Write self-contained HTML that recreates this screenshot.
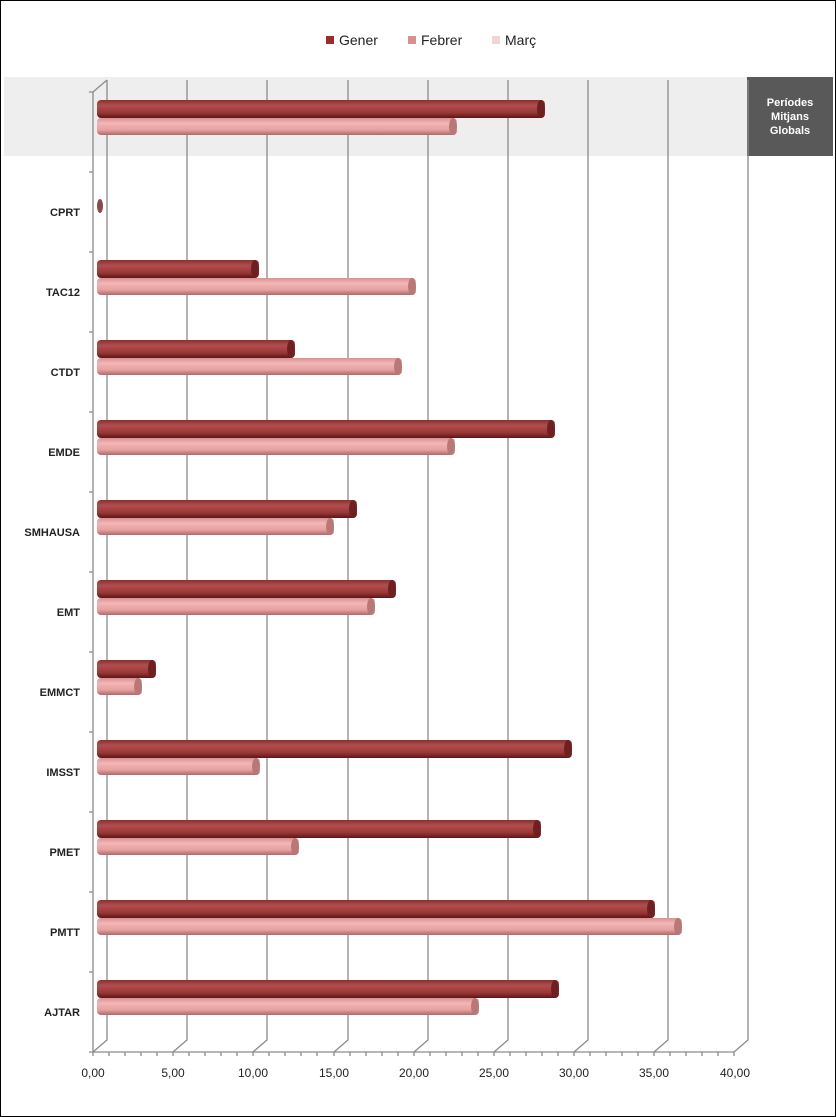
<!DOCTYPE html>
<html><head><meta charset="utf-8"><style>
body{margin:0;background:#fff}
svg{display:block;font-family:"Liberation Sans",sans-serif}
</style></head><body>
<svg width="836" height="1117" xmlns="http://www.w3.org/2000/svg">
<defs>
<linearGradient id="g" x1="0" y1="0" x2="0" y2="1">
<stop offset="0" stop-color="#8c2e2e"/><stop offset="0.3" stop-color="#b04e4e"/><stop offset="0.7" stop-color="#9a3838"/><stop offset="1" stop-color="#5e1414"/></linearGradient>
<linearGradient id="f" x1="0" y1="0" x2="0" y2="1">
<stop offset="0" stop-color="#d99090"/><stop offset="0.3" stop-color="#f3b6b6"/><stop offset="0.7" stop-color="#e6a0a0"/><stop offset="1" stop-color="#b06868"/></linearGradient>
</defs>
<rect x="0.5" y="0.5" width="835" height="1116" fill="#fff" stroke="#000"/>
<rect x="4" y="77" width="743" height="79" fill="#eeeeee"/>
<rect x="747" y="77" width="86" height="79" fill="#595959"/>
<text x="790" y="106" fill="#fff" font-size="11" font-weight="bold" text-anchor="middle">Períodes</text>
<text x="790" y="120" fill="#fff" font-size="11" font-weight="bold" text-anchor="middle">Mitjans</text>
<text x="790" y="134" fill="#fff" font-size="11" font-weight="bold" text-anchor="middle">Globals</text>
<!-- legend -->
<rect x="326" y="36" width="8" height="8" fill="#9b2c2c"/><text x="339" y="45" font-size="14" fill="#222">Gener</text>
<rect x="408" y="36" width="8" height="8" fill="#d99090"/><text x="421" y="45" font-size="14" fill="#222">Febrer</text>
<rect x="492" y="36" width="8" height="8" fill="#f2d4d4"/><text x="505" y="45" font-size="14" fill="#222">Març</text>
<!-- grid -->
<g stroke="#8a8a8a" stroke-width="1.3" fill="none">
<path d="M107,80V1040L93,1052"/><path d="M187,80V1040L173,1052"/><path d="M267,80V1040L253,1052"/><path d="M348,80V1040L334,1052"/><path d="M428,80V1040L414,1052"/><path d="M508,80V1040L494,1052"/><path d="M588,80V1040L574,1052"/><path d="M668,80V1040L654,1052"/><path d="M748,80V1040L734,1052"/>
<path d="M93,92V1052H734"/><path d="M93,92L107,80"/>
<path d="M89,92h4M89,172h4M89,252h4M89,332h4M89,412h4M89,492h4M89,572h4M89,652h4M89,732h4M89,812h4M89,892h4M89,972h4M89,1052h4"/>
<path d="M109,1052v4M125,1052v4M141,1052v4M157,1052v4M189,1052v4M205,1052v4M221,1052v4M237,1052v4M269,1052v4M285,1052v4M301,1052v4M317,1052v4M350,1052v4M366,1052v4M382,1052v4M398,1052v4M430,1052v4M446,1052v4M462,1052v4M478,1052v4M510,1052v4M526,1052v4M542,1052v4M558,1052v4M590,1052v4M606,1052v4M622,1052v4M638,1052v4M670,1052v4M686,1052v4M702,1052v4M718,1052v4M93,1052v4M173,1052v4M253,1052v4M334,1052v4M414,1052v4M494,1052v4M574,1052v4M654,1052v4M734,1052v4"/>
</g>
<g font-size="12" fill="#222" text-anchor="middle">
<text x="93" y="1077">0,00</text><text x="173" y="1077">5,00</text><text x="253" y="1077">10,00</text><text x="334" y="1077">15,00</text><text x="414" y="1077">20,00</text><text x="494" y="1077">25,00</text><text x="574" y="1077">30,00</text><text x="654" y="1077">35,00</text><text x="735" y="1077">40,00</text>
</g>
<g font-size="11" font-weight="bold" fill="#222" text-anchor="end">
<text x="80" y="216">CPRT</text><text x="80" y="296">TAC12</text><text x="80" y="376">CTDT</text><text x="80" y="456">EMDE</text><text x="80" y="536">SMHAUSA</text><text x="80" y="616">EMT</text><text x="80" y="696">EMMCT</text><text x="80" y="776">IMSST</text><text x="80" y="856">PMET</text><text x="80" y="936">PMTT</text><text x="80" y="1016">AJTAR</text>
</g>
<g stroke="none">
<!-- bars: gener y=100+80i h18 ; febrer y=118+80i h17 -->
<rect x="97" y="100" width="448" height="18" rx="4" fill="url(#g)"/><ellipse cx="541" cy="109" rx="4" ry="9" fill="#6e2020"/>
<rect x="97" y="118" width="360" height="17" rx="4" fill="url(#f)"/><ellipse cx="453" cy="126.5" rx="4" ry="8.5" fill="#b87878"/>
<ellipse cx="100" cy="206" rx="3" ry="7" fill="#8a4a4a"/>
<rect x="97" y="260" width="162" height="18" rx="4" fill="url(#g)"/><ellipse cx="255" cy="269" rx="4" ry="9" fill="#6e2020"/>
<rect x="97" y="278" width="319" height="17" rx="4" fill="url(#f)"/><ellipse cx="412" cy="286.5" rx="4" ry="8.5" fill="#b87878"/>
<rect x="97" y="340" width="198" height="18" rx="4" fill="url(#g)"/><ellipse cx="291" cy="349" rx="4" ry="9" fill="#6e2020"/>
<rect x="97" y="358" width="305" height="17" rx="4" fill="url(#f)"/><ellipse cx="398" cy="366.5" rx="4" ry="8.5" fill="#b87878"/>
<rect x="97" y="420" width="458" height="18" rx="4" fill="url(#g)"/><ellipse cx="551" cy="429" rx="4" ry="9" fill="#6e2020"/>
<rect x="97" y="438" width="358" height="17" rx="4" fill="url(#f)"/><ellipse cx="451" cy="446.5" rx="4" ry="8.5" fill="#b87878"/>
<rect x="97" y="500" width="260" height="18" rx="4" fill="url(#g)"/><ellipse cx="353" cy="509" rx="4" ry="9" fill="#6e2020"/>
<rect x="97" y="518" width="237" height="17" rx="4" fill="url(#f)"/><ellipse cx="330" cy="526.5" rx="4" ry="8.5" fill="#b87878"/>
<rect x="97" y="580" width="299" height="18" rx="4" fill="url(#g)"/><ellipse cx="392" cy="589" rx="4" ry="9" fill="#6e2020"/>
<rect x="97" y="598" width="278" height="17" rx="4" fill="url(#f)"/><ellipse cx="371" cy="606.5" rx="4" ry="8.5" fill="#b87878"/>
<rect x="97" y="660" width="59" height="18" rx="4" fill="url(#g)"/><ellipse cx="152" cy="669" rx="4" ry="9" fill="#6e2020"/>
<rect x="97" y="678" width="45" height="17" rx="4" fill="url(#f)"/><ellipse cx="138" cy="686.5" rx="4" ry="8.5" fill="#b87878"/>
<rect x="97" y="740" width="475" height="18" rx="4" fill="url(#g)"/><ellipse cx="568" cy="749" rx="4" ry="9" fill="#6e2020"/>
<rect x="97" y="758" width="163" height="17" rx="4" fill="url(#f)"/><ellipse cx="256" cy="766.5" rx="4" ry="8.5" fill="#b87878"/>
<rect x="97" y="820" width="444" height="18" rx="4" fill="url(#g)"/><ellipse cx="537" cy="829" rx="4" ry="9" fill="#6e2020"/>
<rect x="97" y="838" width="202" height="17" rx="4" fill="url(#f)"/><ellipse cx="295" cy="846.5" rx="4" ry="8.5" fill="#b87878"/>
<rect x="97" y="900" width="558" height="18" rx="4" fill="url(#g)"/><ellipse cx="651" cy="909" rx="4" ry="9" fill="#6e2020"/>
<rect x="97" y="918" width="585" height="17" rx="4" fill="url(#f)"/><ellipse cx="678" cy="926.5" rx="4" ry="8.5" fill="#b87878"/>
<rect x="97" y="980" width="462" height="18" rx="4" fill="url(#g)"/><ellipse cx="555" cy="989" rx="4" ry="9" fill="#6e2020"/>
<rect x="97" y="998" width="382" height="17" rx="4" fill="url(#f)"/><ellipse cx="475" cy="1006.5" rx="4" ry="8.5" fill="#b87878"/>
</g>
</svg>
</body></html>
